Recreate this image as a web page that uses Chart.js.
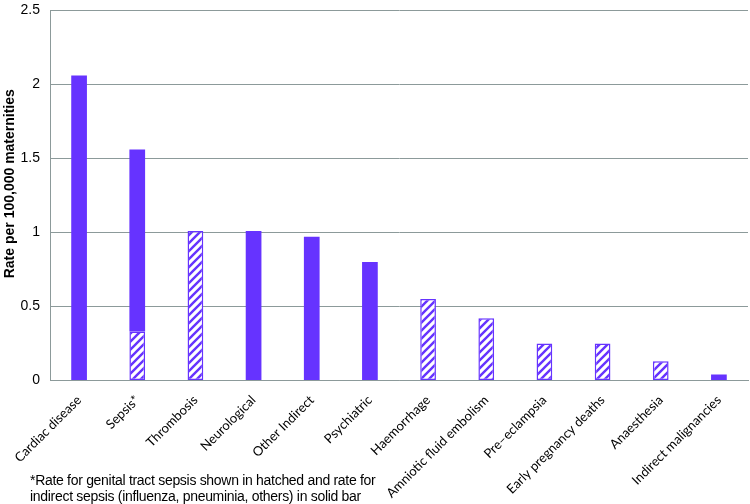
<!DOCTYPE html>
<html>
<head>
<meta charset="utf-8">
<script src="https://cdn.jsdelivr.net/npm/chart.js@4.4.1/dist/chart.umd.min.js"></script>
<style>
  html, body { margin: 0; padding: 0; background: #fff; overflow: hidden; }
  #wrap { position: relative; width: 750px; height: 504px; overflow: hidden; }
  #chart { position: absolute; left: 0; top: -8px; }
  #note { position: absolute; left: 30px; top: 472px; font-family: "Liberation Sans", Arial, sans-serif;
          font-size: 14px; line-height: 16px; color: #000; letter-spacing: -0.3px; }
</style>
</head>
<body>
<div id="wrap">
  <canvas id="chart" width="750" height="513"></canvas>
  <div id="note">*Rate for genital tract sepsis shown in hatched and rate for<br>indirect sepsis (influenza, pneuminia, others) in solid bar</div>
</div>
<script>
const categories = ['Cardiac disease', 'Sepsis*', 'Thrombosis', 'Neurological', 'Other Indirect', 'Psychiatric',
    'Haemorrhage', 'Amniotic fluid embolism', 'Pre\u2013eclampsia', 'Early pregnancy deaths', 'Anaesthesia', 'Indirect malignancies'];
// hatched = genital tract sepsis / direct causes, solid = indirect causes
const hatchedValues = [0, 0.33, 1.01, 0, 0, 0, 0.55, 0.42, 0.25, 0.25, 0.13, 0];
const solidValues = [2.06, 1.23, 0, 1.01, 0.97, 0.80, 0, 0, 0, 0, 0, 0.04];
const yTicks = [0, 0.5, 1, 1.5, 2, 2.5];

const purple = '#6633ff';

function makeHatch() {
    const size = 8;
    const c = document.createElement('canvas');
    c.width = size; c.height = size;
    const g = c.getContext('2d');
    g.fillStyle = '#ffffff';
    g.fillRect(0, 0, size, size);
    g.strokeStyle = purple;
    g.lineWidth = 2.4;
    g.beginPath();
    g.moveTo(-2, size + 2); g.lineTo(size + 2, -2);
    g.moveTo(-2, 2); g.lineTo(2, -2);
    g.moveTo(size - 2, size + 2); g.lineTo(size + 2, size - 2);
    g.stroke();
    return g.createPattern(c, 'repeat');
}

document.addEventListener('DOMContentLoaded', function() {
    const ctx = document.getElementById('chart').getContext('2d');
    const hatch = makeHatch();
    new Chart(ctx, {
        type: 'bar',
        data: {
            labels: categories,
            datasets: [{
                label: 'Hatched',
                data: hatchedValues,
                backgroundColor: hatch,
                borderColor: purple,
                borderWidth: hatchedValues.map(v => v > 0 ? 1.5 : 0),
                borderSkipped: false,
                barPercentage: 0.27,
                categoryPercentage: 1
            }, {
                label: 'Solid',
                data: solidValues,
                backgroundColor: purple,
                borderWidth: 0,
                barPercentage: 0.27,
                categoryPercentage: 1
            }]
        },
        options: {
            responsive: false,
            animation: false,
            layout: { padding: { left: 2, right: 2, top: 0, bottom: 0 } },
            plugins: {
                legend: { display: false },
                tooltip: { enabled: false }
            },
            scales: {
                x: {
                    stacked: true,
                    grid: { display: false },
                    border: { color: '#8c9a9a' },
                    ticks: {
                        color: '#000',
                        minRotation: 45,
                        maxRotation: 45,
                        autoSkip: false,
                        padding: 4,
                        font: { family: 'Lato, "Open Sans", sans-serif', size: 13 }
                    }
                },
                y: {
                    stacked: true,
                    min: 0,
                    max: 2.5,
                    afterBuildTicks: axis => { axis.ticks = yTicks.map(v => ({ value: v })); },
                    afterFit: axis => { axis.width = 48; },
                    grid: { color: '#8c9a9a', lineWidth: 1, drawTicks: false },
                    border: { color: '#8c9a9a' },
                    ticks: {
                        color: '#000',
                        padding: 10,
                        font: { family: '"Liberation Sans", Arial, sans-serif', size: 14 },
                        callback: v => String(v)
                    },
                    title: {
                        display: true,
                        // leading spaces nudge the title slightly up, as in the original
                        text: '\u00a0\u00a0\u00a0\u00a0\u00a0\u00a0Rate per 100,000 maternities',
                        color: '#000',
                        font: { family: '"Liberation Sans", Arial, sans-serif', size: 14, weight: 'bold' },
                        padding: { top: 0, bottom: 0 }
                    }
                }
            }
        }
    });
});
</script>
</body>
</html>
